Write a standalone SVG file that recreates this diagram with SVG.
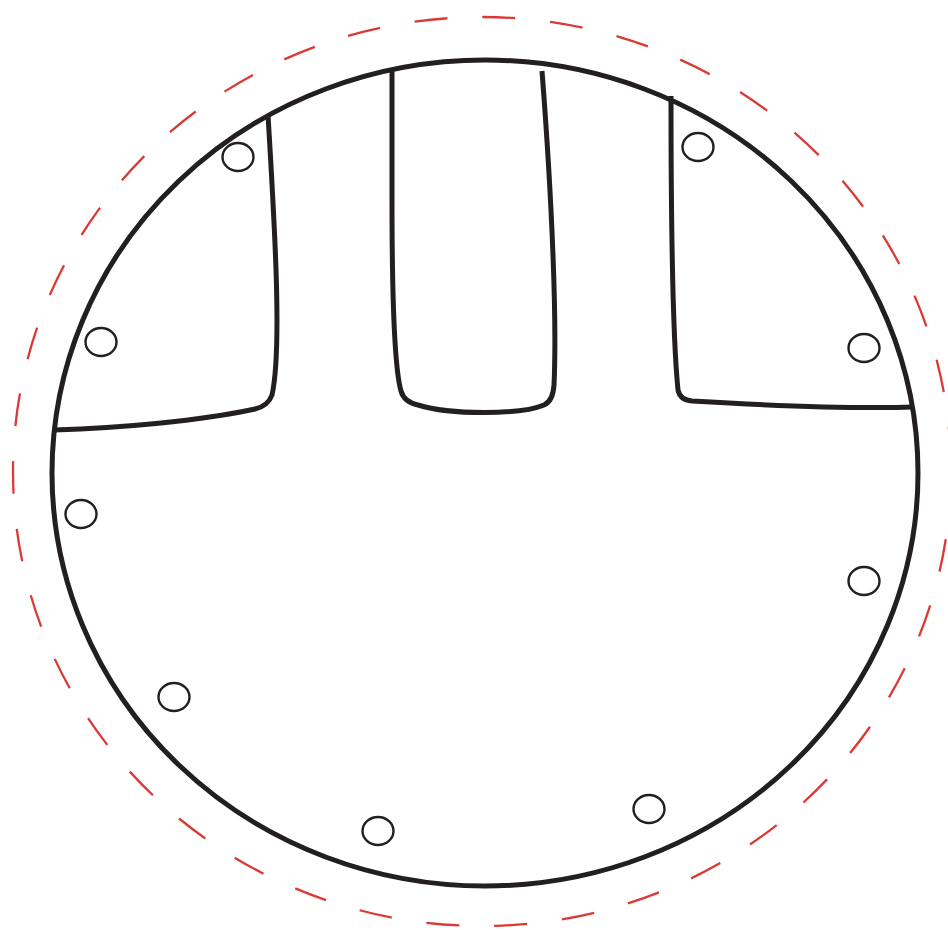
<svg xmlns="http://www.w3.org/2000/svg" width="948" height="930" viewBox="0 0 948 930">
<style>
.wall{fill:none;stroke:#231f20;stroke-width:5;stroke-linecap:butt;stroke-linejoin:round}
.hole{fill:#fff;stroke:#231f20;stroke-width:2.4}
.dash{fill:none;stroke:#d93a36;stroke-width:2.3;stroke-dasharray:33 35}
</style>
<rect width="948" height="930" fill="#fff"/>
<ellipse class="dash" cx="482" cy="471.5" rx="469" ry="454.5"/>
<ellipse class="wall" cx="485" cy="473" rx="433" ry="413"/>
<g id="walls">
<path class="wall" d="M268,115 C275,230 282,350 272,395 Q268,406 255,409 C200,421 120,428 54,430"/>
<path class="wall" d="M392,68 L392,200 C392,300 395,370 401,391 Q404,402 418,405 C450,415 520,415 544,405 Q553,401 554,385 C557,320 552,200 542,71"/>
<path class="wall" d="M671,96 C671,200 672,330 678,390 Q680,400 692,401 C760,405 850,409 914,407"/>
</g>
<g id="holes">
<ellipse class="hole" cx="238" cy="157" rx="15.5" ry="14"/>
<ellipse class="hole" cx="101" cy="342" rx="15.5" ry="14"/>
<ellipse class="hole" cx="81" cy="514" rx="15.5" ry="14"/>
<ellipse class="hole" cx="174" cy="697" rx="15.5" ry="14"/>
<ellipse class="hole" cx="378" cy="831" rx="15.5" ry="14"/>
<ellipse class="hole" cx="649" cy="809" rx="15.5" ry="14"/>
<ellipse class="hole" cx="864" cy="581" rx="15.5" ry="14"/>
<ellipse class="hole" cx="864" cy="348" rx="15.5" ry="14"/>
<ellipse class="hole" cx="698" cy="147" rx="15.5" ry="14"/>
</g>
</svg>
